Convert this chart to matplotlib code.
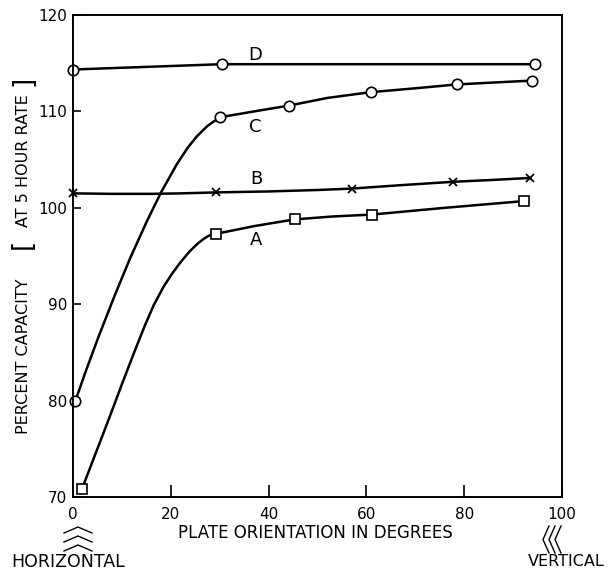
import matplotlib.pyplot as plt
from matplotlib.lines import Line2D

# measured points (markers)
d_x = [0, 30.4, 94.4]
d_y = [114.35, 114.9, 114.9]

c_x = [0.5, 30.1, 44.1, 60.9, 78.5, 93.9]
c_y = [80, 109.4, 110.6, 112.0, 112.8, 113.2]

b_x = [0, 29.2, 57.1, 77.7, 93.5]
b_y = [101.5, 101.6, 102.0, 102.7, 103.1]

a_x = [1.8, 29.2, 45.3, 61.1, 92.2]
a_y = [70.8, 97.3, 98.8, 99.3, 100.7]

# points
c_curve_x = [0.5, 2.5, 5.2, 8.6, 11.7, 15.1, 18.0, 21.2, 23.4, 25.3, 27.5, 28.9, 30.1, 37.0, 44.1, 52.0, 60.9, 70.0, 78.5, 86.0, 93.9]
c_curve_y = [80, 82.9, 86.6, 91.0, 94.8, 98.6, 101.6, 104.5, 106.2, 107.4, 108.5, 109.0, 109.4, 110.0, 110.6, 111.4, 112.0, 112.4, 112.8, 113.0, 113.2]

a_curve_x = [1.8, 4.0, 6.2, 8.0, 10.0, 12.5, 14.7, 16.5, 18.5, 20.3, 21.9, 23.7, 25.3, 26.5, 27.7, 29.2, 37.0, 45.3, 53.0, 61.1, 76.0, 92.2]
a_curve_y = [70.8, 73.7, 76.6, 79.0, 81.7, 85.0, 87.8, 89.9, 91.8, 93.2, 94.3, 95.4, 96.2, 96.7, 97.1, 97.3, 98.1, 98.8, 99.1, 99.3, 100.0, 100.7]

b_curve_x = [0, 8, 16, 22, 29.2, 40, 50, 57.1, 67, 77.7, 86, 93.5]
b_curve_y = [101.5, 101.45, 101.45, 101.5, 101.6, 101.7, 101.85, 102.0, 102.35, 102.7, 102.9, 103.1]

x_ticks = [0, 20, 40, 60, 80, 100]
y_ticks = [70, 80, 90, 100, 110, 120]

curve_labels = ['D', 'C', 'B', 'A']
label_x = [37.2, 37.2, 37.6, 37.4]
label_y = [115.9, 108.4, 103.0, 96.7]

lw = 1.8
fig = plt.figure(figsize=(6.1, 5.74), dpi=100)
ax = fig.add_axes([0.1197, 0.1341, 0.8016, 0.8397])

ax.plot(d_x, d_y, color='black', lw=lw, solid_joinstyle='round')
ax.plot(c_curve_x, c_curve_y, color='black', lw=lw, solid_joinstyle='round')
ax.plot(b_curve_x, b_curve_y, color='black', lw=lw, solid_joinstyle='round')
ax.plot(a_curve_x, a_curve_y, color='black', lw=lw, solid_joinstyle='round')

ax.plot(d_x, d_y, 'o', ms=7.5, mfc='white', mec='black', mew=1.2, clip_on=False)
ax.plot(c_x, c_y, 'o', ms=7.5, mfc='white', mec='black', mew=1.2, clip_on=False)
ax.plot(b_x, b_y, 'x', ms=6, mec='black', mew=1.3, clip_on=False)
ax.plot(a_x, a_y, 's', ms=6.5, mfc='white', mec='black', mew=1.2, clip_on=False)

for lab, lx, ly in zip(curve_labels, label_x, label_y):
    ax.text(lx, ly, lab, fontsize=13, ha='center', va='center')

ax.set_xlim(0, 100)
ax.set_ylim(70, 120)
ax.set_xticks(x_ticks)
ax.set_yticks(y_ticks)
ax.tick_params(axis='x', direction='in', length=8.5, width=1.2, labelsize=11, pad=7)
ax.tick_params(axis='y', direction='in', length=6, width=1.2, labelsize=11, pad=4)
for s in ax.spines.values():
    s.set_linewidth(1.4)

W, H = 610, 574

# x axis title
fig.text(315 / W, 1 - 533 / H, 'PLATE ORIENTATION IN DEGREES', fontsize=12, ha='center', va='center')

# y axis title with tall brackets
ylab_parts = ['PERCENT CAPACITY', '[', 'AT 5 HOUR RATE', ']']
ylab_py = [356, 244, 161, 81]
for w, py in zip(ylab_parts, ylab_py):
    size = 19 if w in '[]' else 11.5
    fig.text(23 / W, 1 - py / H, w, rotation=90, fontsize=size, ha='center', va='center')

fig.text(68 / W, 1 - 562 / H, 'HORIZONTAL', fontsize=12.5, ha='center', va='center')
fig.text(566 / W, 1 - 562 / H, 'VERTICAL', fontsize=11.5, ha='center', va='center')

# chevrons under the ends of the axis
for yy in [527, 536, 545]:
    fig.add_artist(Line2D([64 / W, 78 / W, 92 / W], [1 - (yy + 6) / H, 1 - yy / H, 1 - (yy + 6) / H],
                          color='black', lw=1.0, transform=fig.transFigure))
for xx in [543, 549, 555]:
    fig.add_artist(Line2D([(xx + 6) / W, xx / W, (xx + 6) / W], [1 - 526 / H, 1 - 539.5 / H, 1 - 553 / H],
                          color='black', lw=1.0, transform=fig.transFigure))

fig.savefig('out.png', dpi=100)
